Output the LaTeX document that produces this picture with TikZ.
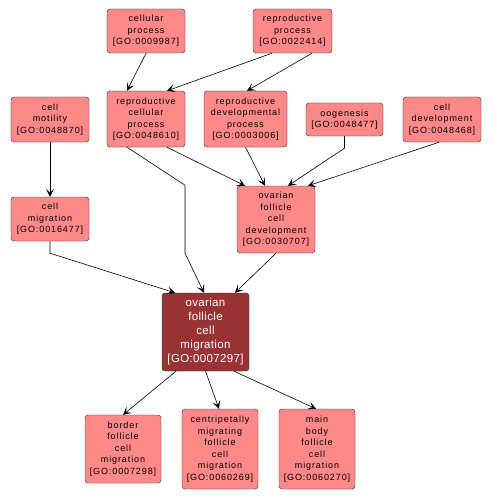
\documentclass[tikz,border=0pt]{standalone}
\usepackage{fontspec}
\setmainfont{Liberation Sans}
\newfontfamily\termfont[LetterSpace=10]{Liberation Sans}
\newfontfamily\hitfont[LetterSpace=3]{Liberation Sans}
\usepackage{xcolor}
\usepackage{tikz}
\usetikzlibrary{arrows.meta}

\definecolor{termred}{RGB}{255,136,136}
\definecolor{hitred}{RGB}{153,51,51}

\begin{document}
\begin{tikzpicture}[x=1pt, y=-1pt,
    term/.style={draw=black!85, rectangle, rounded corners=3pt, fill=termred, align=center,
        inner sep=0pt, font=\termfont\fontsize{9}{11.5}\selectfont},
    hit/.style={term, fill=hitred, text=white, font=\hitfont\fontsize{11.5}{14}\selectfont},
    isa/.style={-{Stealth[length=8pt,width=8pt,inset=4pt]}, line width=0.6pt}]
    \useasboundingbox (0,0) rectangle (490,500);

    % top row
    \node[term, minimum width=78pt, minimum height=44pt] (cp) at (146,31)
        {cellular\\process\\{[GO:0009987]}};
    \node[term, minimum width=79pt, minimum height=44pt] (rp) at (292.5,31)
        {reproductive\\process\\{[GO:0022414]}};

    % second row
    \node[term, minimum width=78pt, minimum height=45pt] (cm) at (50,119.5)
        {cell\\motility\\{[GO:0048870]}};
    \node[term, minimum width=78pt, minimum height=56pt] (rcp) at (146,119)
        {reproductive\\cellular\\process\\{[GO:0048610]}};
    \node[term, minimum width=83pt, minimum height=56pt] (rdp) at (245.5,119)
        {reproductive\\developmental\\process\\{[GO:0003006]}};
    \node[term, minimum width=77pt, minimum height=33pt] (oog) at (344.5,119.5)
        {oogenesis\\{[GO:0048477]}};
    \node[term, minimum width=78pt, minimum height=45pt] (cd) at (442,119.5)
        {cell\\development\\{[GO:0048468]}};

    % third row
    \node[term, minimum width=78pt, minimum height=44pt] (cmig) at (50,219)
        {cell\\migration\\{[GO:0016477]}};
    \node[term, minimum width=78pt, minimum height=67pt] (ofcd) at (276,219.5)
        {ovarian\\follicle\\cell\\development\\{[GO:0030707]}};

    % the term itself
    \node[hit, minimum width=87pt, minimum height=78pt] (ofcm) at (205.5,332)
        {ovarian\\follicle\\cell\\migration\\{[GO:0007297]}};

    % children
    \node[term, minimum width=76pt, minimum height=68pt] (bfcm) at (123,449)
        {border\\follicle\\cell\\migration\\{[GO:0007298]}};
    \node[term, minimum width=76pt, minimum height=80pt] (cmfcm) at (220,449)
        {centripetally\\migrating\\follicle\\cell\\migration\\{[GO:0060269]}};
    \node[term, minimum width=76pt, minimum height=80pt] (mbfcm) at (317,449)
        {main\\body\\follicle\\cell\\migration\\{[GO:0060270]}};

    \draw[isa] (cp.south) -- ([xshift=-19pt]rcp.north);
    \draw[isa] ([xshift=-20.5pt]rp.south) -- ([xshift=21pt]rcp.north);
    \draw[isa] ([xshift=19.5pt]rp.south) -- ([xshift=1.5pt]rdp.north);
    \draw[isa] (cm.south) -- (cmig.north);
    \draw[isa] ([xshift=-19pt]rcp.south) -- ++(58,38) -- ++(0,68) -- ([xshift=-1.5pt]ofcm.north);
    \draw[isa] ([xshift=21pt]rcp.south) -- ([xshift=-31pt]ofcd.north);
    \draw[isa] (rdp.south) -- ([xshift=-11pt]ofcd.north);
    \draw[isa] (oog.south) -- ++(0,12) -- ([xshift=12pt]ofcd.north);
    \draw[isa] ([xshift=-3pt]cd.south) -- ([xshift=32pt]ofcd.north);
    \draw[isa] (cmig.south) -- ++(0,12) -- ([xshift=-30.5pt]ofcm.north);
    \draw[isa] (ofcd.south) -- ([xshift=29.5pt]ofcm.north);
    \draw[isa] ([xshift=-29.5pt]ofcm.south) -- (bfcm.north);
    \draw[isa] (ofcm.south) -- ([xshift=-1pt]cmfcm.north);
    \draw[isa] ([xshift=28.5pt]ofcm.south) -- ([xshift=-1pt]mbfcm.north);
\end{tikzpicture}
\end{document}
